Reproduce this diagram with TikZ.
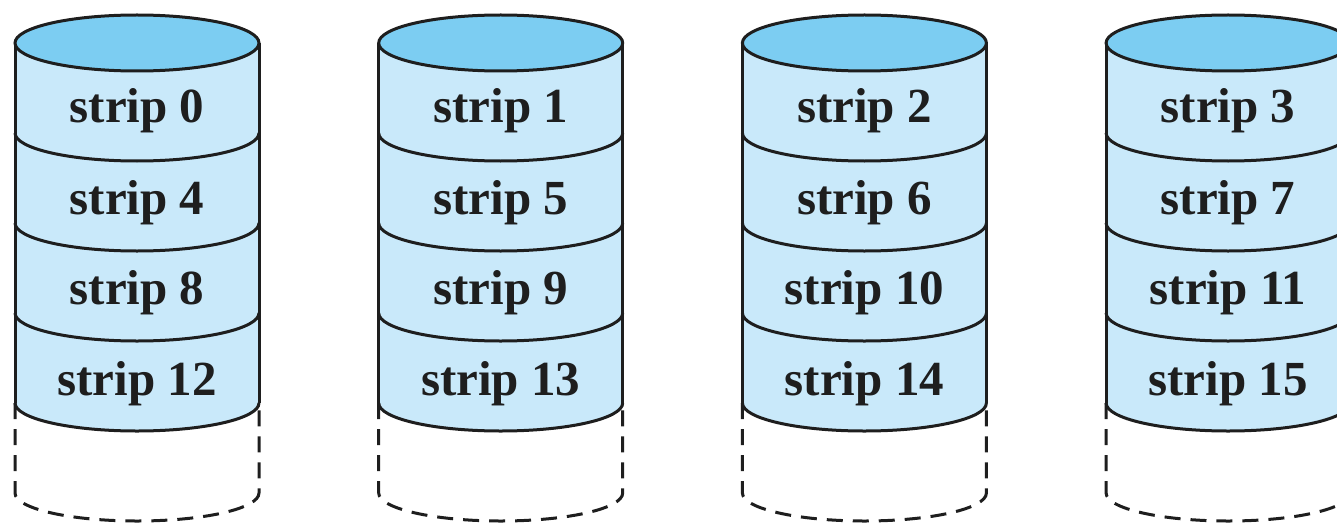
\documentclass[tikz,border=0pt]{standalone}
\usepackage{fontspec}
\setmainfont{Liberation Serif}
\definecolor{diskTop}{HTML}{7CCDF2}
\definecolor{diskBody}{HTML}{C9E9FA}
\definecolor{inkDark}{HTML}{1E1E1E}
\tikzset{
  outline/.style={draw=inkDark, line width=3pt},
  spare/.style={draw=inkDark, line width=3pt, dash pattern=on 16pt off 10pt},
  striplabel/.style={anchor=base, inner sep=0pt, text=inkDark,
    font=\fontsize{49}{58}\selectfont\bfseries},
  half/.style={start angle=180, end angle=360, x radius=122pt, y radius=28pt}
}
\begin{document}
\begin{tikzpicture}[x=1pt, y=-1pt]
  \useasboundingbox (0,0) rectangle (1337,524);
  \clip (0,0) rectangle (1337,524);
  \foreach \d in {0,1,2,3} {
    \pgfmathsetmacro{\cx}{137+363.7*\d}
    \pgfmathsetmacro{\xl}{\cx-122}
    \pgfmathsetmacro{\xr}{\cx+122}
    % striped body of the disk
    \fill[diskBody] (\xl,43) -- (\xl,403) arc[half] -- (\xr,43) -- cycle;
    % spare (unused) lower section
    \draw[spare] (\xl,403) -- (\xl,493) arc[half] -- (\xr,403);
    % side walls
    \draw[outline] (\xl,43) -- (\xl,403);
    \draw[outline] (\xr,43) -- (\xr,403);
    % strip separators
    \foreach \y in {133,223,313,403}
      \draw[outline] (\xl,\y) arc[half];
    % top of the disk
    \draw[outline, fill=diskTop] (\cx,43) ellipse [x radius=122pt, y radius=28pt];
    % strip labels
    \foreach \r/\base in {0/123,1/214,2/304,3/395} {
      \pgfmathtruncatemacro{\n}{\d+4*\r}
      \node[striplabel] (s\n) at (\cx,\base) {strip \n};
    }
  }
\end{tikzpicture}
\end{document}
